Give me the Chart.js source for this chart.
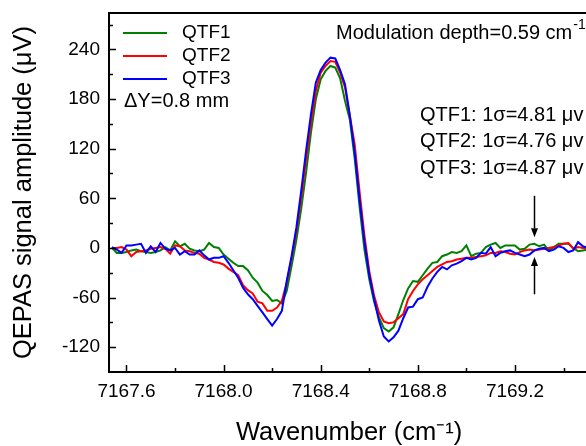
<!DOCTYPE html>
<html>
<head>
<meta charset="utf-8">
<script src="https://cdn.jsdelivr.net/npm/chart.js@4.4.0/dist/chart.umd.min.js"></script>
<style>
  html, body { margin: 0; padding: 0; overflow: hidden; background: #fff; }
  #wrap { width: 586px; height: 446px; overflow: hidden; }
  canvas { display: block; }
</style>
</head>
<body>
<div id="wrap"><canvas id="chart" width="650" height="460"></canvas></div>
<script>
// wavenumber axis (cm-1)
const wavenumber = [7167.54, 7167.56, 7167.58, 7167.60, 7167.62, 7167.64, 7167.66, 7167.68, 7167.70, 7167.72,
  7167.74, 7167.76, 7167.78, 7167.80, 7167.82, 7167.84, 7167.86, 7167.88, 7167.90, 7167.92,
  7167.94, 7167.96, 7167.98, 7168.00, 7168.02, 7168.04, 7168.06, 7168.08, 7168.10, 7168.12,
  7168.14, 7168.16, 7168.18, 7168.20, 7168.22, 7168.24, 7168.26, 7168.28, 7168.30, 7168.32,
  7168.34, 7168.36, 7168.38, 7168.40, 7168.42, 7168.44, 7168.46, 7168.48, 7168.50, 7168.52,
  7168.54, 7168.56, 7168.58, 7168.60, 7168.62, 7168.64, 7168.66, 7168.68, 7168.70, 7168.72,
  7168.74, 7168.76, 7168.78, 7168.80, 7168.82, 7168.84, 7168.86, 7168.88, 7168.90, 7168.92,
  7168.94, 7168.96, 7168.98, 7169.00, 7169.02, 7169.04, 7169.06, 7169.08, 7169.10, 7169.12,
  7169.14, 7169.16, 7169.18, 7169.20, 7169.22, 7169.24, 7169.26, 7169.28, 7169.30, 7169.32,
  7169.34, 7169.36, 7169.38, 7169.40, 7169.42, 7169.44, 7169.46, 7169.48, 7169.50];

// signal amplitude (uV)
const qtf1 = [0, -6, -6, -5, -3, -2, -4, -5, -6, -5,
  -3, 1, -3, 8, 2, 5, -1, -3, -4, -2,
  6, 1, 0, -8, -13, -18, -22, -22, -27, -36,
  -42, -52, -57, -64, -63, -67, -52, -22, 10, 48,
  92, 140, 180, 204, 214, 220, 218, 205, 178, 155,
  108, 50, -2, -38, -65, -84, -97, -101, -96, -80,
  -63, -49, -40, -41, -33, -25, -18, -17, -10, -8,
  -5, -6, -4, 3, -10, -7, -6, 1, 4, 6,
  0, 3, 3, 3, -2, -1, 4, 5, 2, 4,
  -3, 1, 5, 5, 5, 0, -4, -3, -2];

const qtf2 = [0, 0, 1, -2, -10, -5, -4, -3, -1, 0,
  1, -1, -7, 3, 2, -3, -4, -6, -7, -12,
  -14, -17, -18, -20, -25, -29, -33, -45, -51, -55,
  -65, -67, -76, -76, -72, -64, -42, -12, 20, 62,
  108, 152, 190, 212, 220, 226, 225, 212, 194, 160,
  125, 68, 15, -28, -58, -78, -89, -91, -90, -85,
  -80, -62, -52, -44, -38, -33, -28, -23, -20, -17,
  -16, -14, -13, -12, -12, -11, -10, -9, -6, -6,
  -4, -5, -7, -8, -5, -3, -2, -3, -2, -1,
  0, 1, 3, 5, 6, -1, 1, 0, 0];

const qtf3 = [1, -2, -6, 3, 3, 4, 5, -6, 2, -5,
  6, -1, -3, 0, -8, -4, -8, -8, -3, -9,
  -14, -12, -12, -10, -18, -27, -36, -48, -56, -62,
  -70, -78, -86, -94, -86, -76, -40, -10, 25, 70,
  118, 162, 200, 215, 224, 230, 229, 215, 198, 160,
  115, 58, 8, -33, -62, -88, -107, -113, -108, -100,
  -85, -72, -71, -62, -60, -47, -37, -29, -23, -26,
  -21, -19, -16, -12, -14, -12, -6, -7, 1, -10,
  -6, -4, -3, -6, -8, -10, -8, -3, -1, 0,
  -4, -2, 2, 0, -5, -3, 7, 2, 0];

const seriesNames = ['QTF1', 'QTF2', 'QTF3'];
const seriesColors = ['#008000', '#ff0000', '#0000ff'];
const noiseLabels = ['QTF1: 1σ=4.81 μv', 'QTF2: 1σ=4.76 μv', 'QTF3: 1σ=4.87 μv'];

// noise arrows: x position, [tail, tip] in uV
const arrowX = 7169.28;
const arrowDown = [63, 13];
const arrowUp = [-56, -11];

const FONT = "'Liberation Sans', Arial, sans-serif";

const toXY = ys => ys.map((v, i) => ({ x: wavenumber[i], y: v }));

function drawArrow(ctx, x, yTail, yTip) {
  const dir = yTip > yTail ? 1 : -1;
  const head = 9;
  ctx.beginPath();
  ctx.moveTo(x, yTail);
  ctx.lineTo(x, yTip - dir * head);
  ctx.stroke();
  ctx.beginPath();
  ctx.moveTo(x, yTip);
  ctx.lineTo(x - 3.5, yTip - dir * head);
  ctx.lineTo(x + 3.5, yTip - dir * head);
  ctx.closePath();
  ctx.fill();
}

const framePlugin = {
  id: 'frame',
  afterDatasetsDraw(chart) {
    const { ctx, chartArea: a, scales: { x, y } } = chart;
    ctx.save();
    ctx.strokeStyle = '#000';
    ctx.lineWidth = 2;
    ctx.strokeRect(a.left, a.top, a.right - a.left, a.bottom - a.top);

    ctx.lineWidth = 1.5;
    ctx.beginPath();
    // x ticks, pointing in
    for (let k = 0; ; k++) {
      const v = 7167.6 + k * 0.2;
      if (v > x.max) break;
      const px = Math.round(x.getPixelForValue(v)) + 0.5;
      const len = k % 2 === 0 ? 7 : 4;
      ctx.moveTo(px, a.bottom);
      ctx.lineTo(px, a.bottom - len);
    }
    // y ticks, pointing in
    for (let v = -120; v <= y.max; v += 30) {
      const py = Math.round(y.getPixelForValue(v)) + 0.5;
      const len = v % 60 === 0 ? 7 : 4;
      ctx.moveTo(a.left, py);
      ctx.lineTo(a.left + len, py);
    }
    ctx.stroke();
    ctx.restore();
  }
};

const notesPlugin = {
  id: 'notes',
  afterDraw(chart) {
    const { ctx, chartArea: a, scales: { x, y } } = chart;
    ctx.save();
    ctx.fillStyle = '#000';
    ctx.textBaseline = 'middle';
    ctx.font = '19px ' + FONT;

    // legend
    chart.data.datasets.forEach((ds, i) => {
      const ly = a.top + 20 + i * 23;
      ctx.strokeStyle = ds.borderColor;
      ctx.lineWidth = 2;
      ctx.beginPath();
      ctx.moveTo(a.left + 14, ly);
      ctx.lineTo(a.left + 58, ly);
      ctx.stroke();
      ctx.fillStyle = '#000';
      ctx.fillText(ds.label, a.left + 73, ly);
    });
    ctx.font = '20px ' + FONT;
    ctx.fillText('ΔY=0.8 mm', a.left + 15, a.top + 88);

    // modulation depth
    const mText = 'Modulation depth=0.59 cm';
    const mx = a.left + 227;
    ctx.fillText(mText, mx, a.top + 20);
    const w = ctx.measureText(mText).width;
    ctx.font = '14px ' + FONT;
    ctx.fillText('-1', mx + w + 1, a.top + 12);
    ctx.font = '20px ' + FONT;

    // noise labels
    noiseLabels.forEach((t, i) => {
      ctx.fillText(t, a.left + 311, a.top + 102 + i * 26.5);
    });

    // arrows
    ctx.strokeStyle = '#000';
    ctx.lineWidth = 1.5;
    const ax = Math.round(x.getPixelForValue(arrowX)) + 0.5;
    drawArrow(ctx, ax, y.getPixelForValue(arrowDown[0]), y.getPixelForValue(arrowDown[1]));
    drawArrow(ctx, ax, y.getPixelForValue(arrowUp[0]), y.getPixelForValue(arrowUp[1]));
    ctx.restore();
  }
};

new Chart(document.getElementById('chart'), {
  type: 'line',
  data: {
    datasets: [qtf1, qtf2, qtf3].map((s, i) => ({
      label: seriesNames[i],
      data: toXY(s),
      borderColor: seriesColors[i],
      backgroundColor: seriesColors[i],
      borderWidth: 2,
      pointRadius: 0,
      tension: 0,
      fill: false,
      order: 3 - i,
    })),
  },
  options: {
    responsive: false,
    animation: false,
    layout: { autoPadding: false, padding: { top: 13, right: 61, left: 0, bottom: 0 } },
    plugins: {
      legend: { display: false },
      tooltip: { enabled: false },
    },
    scales: {
      x: {
        type: 'linear',
        min: 7167.528,
        max: 7169.505,
        grid: { display: false, drawTicks: false },
        border: { display: false },
        ticks: {
          stepSize: 0.4,
          includeBounds: false,
          autoSkip: false,
          maxRotation: 0,
          padding: 8,
          color: '#000',
          font: { family: FONT, size: 19 },
          callback: v => v.toFixed(1),
        },
        title: {
          display: true,
          text: 'Wavenumber (cm⁻¹)',
          color: '#000',
          font: { family: FONT, size: 25.5, lineHeight: 1 },
          padding: { top: 0, bottom: 14 },
        },
        afterFit: s => { s.height = 88; s.paddingLeft = 0; s.paddingRight = 0; },
      },
      y: {
        min: -150,
        max: 284,
        grid: { display: false, drawTicks: false },
        border: { display: false },
        ticks: {
          stepSize: 60,
          includeBounds: false,
          padding: 9,
          color: '#000',
          font: { family: FONT, size: 19 },
        },
        title: {
          display: true,
          text: 'QEPAS signal amplitude (μV)',
          color: '#000',
          font: { family: FONT, size: 25.5, lineHeight: 1 },
          padding: { top: 11, bottom: 0 },
        },
        afterFit: s => { s.width = 109; s.paddingTop = 0; s.paddingBottom = 0; },
      },
    },
  },
  plugins: [framePlugin, notesPlugin],
});
</script>
</body>
</html>
